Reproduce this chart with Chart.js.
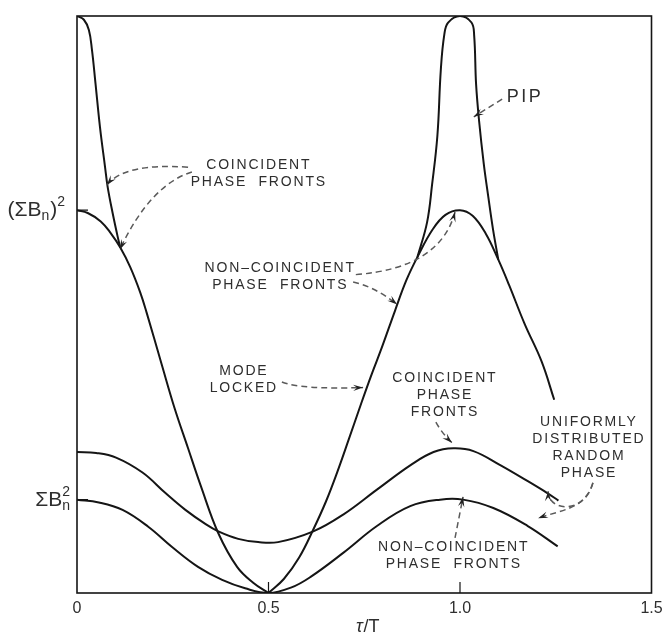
<!DOCTYPE html>
<html>
<head>
<meta charset="utf-8">
<script src="https://cdn.jsdelivr.net/npm/chart.js@4/dist/chart.umd.min.js"></script>
<style>
  html, body { margin: 0; padding: 0; background: #fff; }
  #wrap { width: 663px; height: 636px; position: relative; }
</style>
</head>
<body>
<div id="wrap"><canvas id="c" width="663" height="636"></canvas></div>
<script>
// Delay axis: tau / T
const xTickValues = [0, 0.5, 1.0, 1.5];
const xTickLabels = ['0', '0.5', '1.0', '1.5'];

// Reference levels on the intensity axis (units of ΣBn²)
const sumSquares = 1.0;      // ΣBn²
const squareOfSum = 4.1;     // (ΣBn)²
const yTop = 6.18;

// Mode-locked correlation (the minimum at tau = T/2 is a cusp, so it is listed twice)
const modeLockedTau = [0, 0.028, 0.062, 0.087, 0.113, 0.139, 0.165, 0.182, 0.221, 0.254, 0.290, 0.323, 0.369, 0.418, 0.460, 0.500, 0.500,
  0.540, 0.580, 0.617, 0.650, 0.680, 0.710, 0.742, 0.770, 0.796, 0.830, 0.860, 0.889, 0.928, 0.962, 1.000,
  1.033, 1.067, 1.100, 1.128, 1.169, 1.213, 1.246];
const modeLockedVal = [4.10, 4.07, 3.98, 3.86, 3.70, 3.49, 3.22, 3.00, 2.45, 1.99, 1.55, 1.15, 0.64, 0.28, 0.11, 0.00, 0.00,
  0.15, 0.38, 0.68, 0.98, 1.30, 1.65, 2.03, 2.35, 2.63, 3.02, 3.35, 3.60, 3.89, 4.05, 4.10,
  4.04, 3.85, 3.57, 3.30, 2.88, 2.48, 2.07];

// Coincident phase fronts (pip) near tau = 0 and tau = T
const pipTauA = [0, 0.018, 0.031, 0.039, 0.048, 0.060, 0.073, 0.080, 0.093, 0.106, 0.113];
const pipValA = [6.18, 6.14, 6.03, 5.82, 5.47, 4.99, 4.57, 4.35, 4.07, 3.82, 3.70];
const pipTauB = [0.889, 0.914, 0.927, 0.941, 0.950, 0.959, 0.969, 1.000, 1.030, 1.037, 1.042, 1.050, 1.062, 1.074, 1.086, 1.100];
const pipValB = [3.60, 3.97, 4.37, 4.90, 5.61, 5.98, 6.11, 6.18, 6.11, 5.97, 5.45, 5.05, 4.60, 4.24, 3.90, 3.57];

// Uniformly distributed random phase, coincident phase fronts
const randCoTau = [0, 0.050, 0.102, 0.171, 0.231, 0.283, 0.335, 0.369, 0.421, 0.473, 0.525, 0.617, 0.695, 0.784, 0.871, 0.931, 0.983, 1.035, 1.105, 1.176, 1.228, 1.257];
const randCoVal = [1.51, 1.50, 1.45, 1.29, 1.07, 0.89, 0.74, 0.66, 0.58, 0.545, 0.545, 0.66, 0.84, 1.11, 1.37, 1.51, 1.55, 1.52, 1.37, 1.20, 1.07, 0.99];

// Uniformly distributed random phase, non-coincident phase fronts
const randNonTau = [0, 0.057, 0.119, 0.186, 0.249, 0.316, 0.379, 0.439, 0.500, 0.560, 0.609, 0.695, 0.784, 0.870, 0.948, 1.008, 1.087, 1.176, 1.255];
const randNonVal = [1.00, 0.97, 0.89, 0.71, 0.49, 0.28, 0.14, 0.05, 0.00, 0.06, 0.17, 0.43, 0.72, 0.93, 1.00, 1.00, 0.91, 0.72, 0.50];

const pts = (xs, ys) => xs.map((x, i) => ({ x, y: ys[i] }));

// Text callouts, positioned in data units (tau, intensity)
const notes = [
  { lines: ['PIP'], at: [1.167, 5.31], size: 18 },
  { lines: ['COINCIDENT', 'PHASE  FRONTS'], at: [0.472, 4.58] },
  { lines: ['NON\u2013COINCIDENT', 'PHASE  FRONTS'], at: [0.528, 3.48] },
  { lines: ['MODE', 'LOCKED'], at: [0.433, 2.38] },
  { lines: ['COINCIDENT', 'PHASE', 'FRONTS'], at: [0.958, 2.30] },
  { lines: ['UNIFORMLY', 'DISTRIBUTED', 'RANDOM', 'PHASE'], at: [1.334, 1.83] },
  { lines: ['NON\u2013COINCIDENT', 'PHASE  FRONTS'], at: [0.981, 0.49] }
];

// Dashed leader arrows: from, optional control points, to (data units)
const pointers = [
  { from: [0.290, 4.56], via: [[0.125, 4.61]], to: [0.078, 4.37] },
  { from: [0.300, 4.51], via: [[0.191, 4.37]], to: [0.112, 3.68] },
  { from: [0.728, 3.41], via: [[0.948, 3.48]], to: [0.987, 4.08] },
  { from: [0.721, 3.33], via: [[0.778, 3.28]], to: [0.836, 3.09] },
  { from: [0.535, 2.26], via: [[0.582, 2.18]], to: [0.747, 2.20] },
  { from: [1.110, 5.29], via: [], to: [1.036, 5.10] },
  { from: [0.937, 1.83], via: [[0.953, 1.71]], to: [0.979, 1.61] },
  { from: [1.347, 1.18], via: [[1.326, 0.84], [1.230, 0.87]], to: [1.230, 1.09] },
  { from: [1.347, 1.18], via: [[1.326, 0.89], [1.261, 0.89]], to: [1.204, 0.80] },
  { from: [0.987, 0.59], via: [], to: [1.008, 1.03] }
];

const INK = '#151515';
const TEXT = '#2e2e2e';
const FONT = '"Liberation Sans", "DejaVu Sans", sans-serif';

const curveStyle = {
  borderColor: INK,
  borderWidth: 2,
  pointRadius: 0,
  fill: false,
  showLine: true,
  tension: 0.4,
  spanGaps: false
};

const decor = {
  id: 'decor',
  afterDatasetsDraw(chart) {
    const { ctx, chartArea: a, scales: { x, y } } = chart;
    const px = t => x.getPixelForValue(t);
    const py = v => y.getPixelForValue(v);
    ctx.save();

    // frame
    ctx.strokeStyle = INK;
    ctx.lineWidth = 1.6;
    ctx.strokeRect(a.left, a.top, a.right - a.left, a.bottom - a.top);

    // short inward ticks
    ctx.lineWidth = 1.2;
    ctx.beginPath();
    [0.5, 1.0].forEach(t => { ctx.moveTo(px(t), a.bottom); ctx.lineTo(px(t), a.bottom - 11); });
    [sumSquares, squareOfSum].forEach(v => { ctx.moveTo(a.left, py(v)); ctx.lineTo(a.left + 11, py(v)); });
    ctx.stroke();

    // level labels with sub/superscripts
    ctx.fillStyle = TEXT;
    ctx.textBaseline = 'middle';
    const big = '21px ' + FONT, small = '14px ' + FONT;
    function drawLevel(parts, right, yc) {
      let w = 0;
      parts.forEach(p => {
        if (p.t) { ctx.font = big; w += ctx.measureText(p.t).width; }
        else { ctx.font = small; w += Math.max(p.sub ? ctx.measureText(p.sub).width : 0, p.sup ? ctx.measureText(p.sup).width : 0) + 1; }
      });
      let cx = right - w;
      ctx.textAlign = 'left';
      parts.forEach(p => {
        if (p.t) { ctx.font = big; ctx.fillText(p.t, cx, yc); cx += ctx.measureText(p.t).width; }
        else {
          ctx.font = small;
          let ww = 0;
          if (p.sub) { ctx.fillText(p.sub, cx, yc + 6); ww = Math.max(ww, ctx.measureText(p.sub).width); }
          if (p.sup) { ctx.fillText(p.sup, cx, yc - 8); ww = Math.max(ww, ctx.measureText(p.sup).width); }
          cx += ww + 1;
        }
      });
    }
    drawLevel([{ t: '(\u03A3B' }, { sub: 'n' }, { t: ')' }, { sup: '2' }], a.left - 11, py(squareOfSum));
    drawLevel([{ t: '\u03A3B' }, { sub: 'n', sup: '2' }], a.left - 6, py(sumSquares) + 1);

    // axis title tau/T
    ctx.textBaseline = 'middle';
    ctx.textAlign = 'left';
    ctx.font = 'italic 18px ' + FONT;
    const wTau = ctx.measureText('\u03C4').width;
    ctx.font = '18px ' + FONT;
    const wRest = ctx.measureText('/T').width;
    const tx = (a.left + a.right) / 2 + 3 - (wTau + wRest) / 2;
    ctx.font = 'italic 18px ' + FONT;
    ctx.fillText('\u03C4', tx, 627);
    ctx.font = '18px ' + FONT;
    ctx.fillText('/T', tx + wTau + 1, 627);

    // callout text
    ctx.textAlign = 'center';
    notes.forEach(n => {
      ctx.font = (n.size || 14) + 'px ' + FONT;
      if ('letterSpacing' in ctx) ctx.letterSpacing = n.size ? '2.5px' : '1.8px';
      const cx = px(n.at[0]);
      const cy = py(n.at[1]);
      n.lines.forEach((line, i) => ctx.fillText(line, cx + 1, cy + i * 17));
    });
    if ('letterSpacing' in ctx) ctx.letterSpacing = '0px';

    // dashed leaders with arrowheads
    pointers.forEach(p => {
      const s = [px(p.from[0]), py(p.from[1])];
      const e = [px(p.to[0]), py(p.to[1])];
      const v = p.via.map(c => [px(c[0]), py(c[1])]);
      ctx.strokeStyle = '#5a5a5a';
      ctx.lineWidth = 1.5;
      ctx.setLineDash([6, 4]);
      ctx.beginPath();
      ctx.moveTo(s[0], s[1]);
      if (v.length === 0) ctx.lineTo(e[0], e[1]);
      else if (v.length === 1) ctx.quadraticCurveTo(v[0][0], v[0][1], e[0], e[1]);
      else ctx.bezierCurveTo(v[0][0], v[0][1], v[1][0], v[1][1], e[0], e[1]);
      ctx.stroke();
      ctx.setLineDash([]);
      const last = v.length ? v[v.length - 1] : s;
      const ang = Math.atan2(e[1] - last[1], e[0] - last[0]);
      const L = 10, W = 3.2;
      ctx.fillStyle = '#222';
      ctx.beginPath();
      ctx.moveTo(e[0], e[1]);
      ctx.lineTo(e[0] - L * Math.cos(ang) + W * Math.sin(ang), e[1] - L * Math.sin(ang) - W * Math.cos(ang));
      ctx.lineTo(e[0] - 0.6 * L * Math.cos(ang), e[1] - 0.6 * L * Math.sin(ang));
      ctx.lineTo(e[0] - L * Math.cos(ang) - W * Math.sin(ang), e[1] - L * Math.sin(ang) + W * Math.cos(ang));
      ctx.closePath();
      ctx.fill();
    });

    ctx.restore();
  }
};

new Chart(document.getElementById('c'), {
  type: 'line',
  data: {
    datasets: [
      { label: 'Mode locked', data: pts(modeLockedTau, modeLockedVal), ...curveStyle },
      { label: 'Coincident phase fronts', data: pts(pipTauA, pipValA).concat([{ x: 0.5, y: null }], pts(pipTauB, pipValB)), ...curveStyle },
      { label: 'Random phase, coincident', data: pts(randCoTau, randCoVal), ...curveStyle },
      { label: 'Random phase, non-coincident', data: pts(randNonTau, randNonVal), ...curveStyle }
    ]
  },
  options: {
    responsive: false,
    animation: false,
    devicePixelRatio: 1,
    layout: { padding: { top: 16, right: 11.5, left: 0, bottom: 0 } },
    plugins: { legend: { display: false }, tooltip: { enabled: false } },
    scales: {
      x: {
        type: 'linear',
        min: 0,
        max: 1.5,
        afterBuildTicks: s => { s.ticks = xTickValues.map(v => ({ value: v })); },
        afterFit: s => { s.height = 43; s.paddingLeft = 0; s.paddingRight = 0; },
        grid: { display: false, drawTicks: false },
        border: { display: false },
        ticks: {
          padding: 6,
          autoSkip: false,
          maxRotation: 0,
          color: TEXT,
          font: { family: FONT, size: 16 },
          callback: v => xTickLabels[xTickValues.indexOf(v)]
        }
      },
      y: {
        type: 'linear',
        min: 0,
        max: yTop,
        afterFit: s => { s.width = 77; },
        grid: { display: false, drawTicks: false },
        border: { display: false },
        ticks: { display: false }
      }
    }
  },
  plugins: [decor]
});
</script>
</body>
</html>
